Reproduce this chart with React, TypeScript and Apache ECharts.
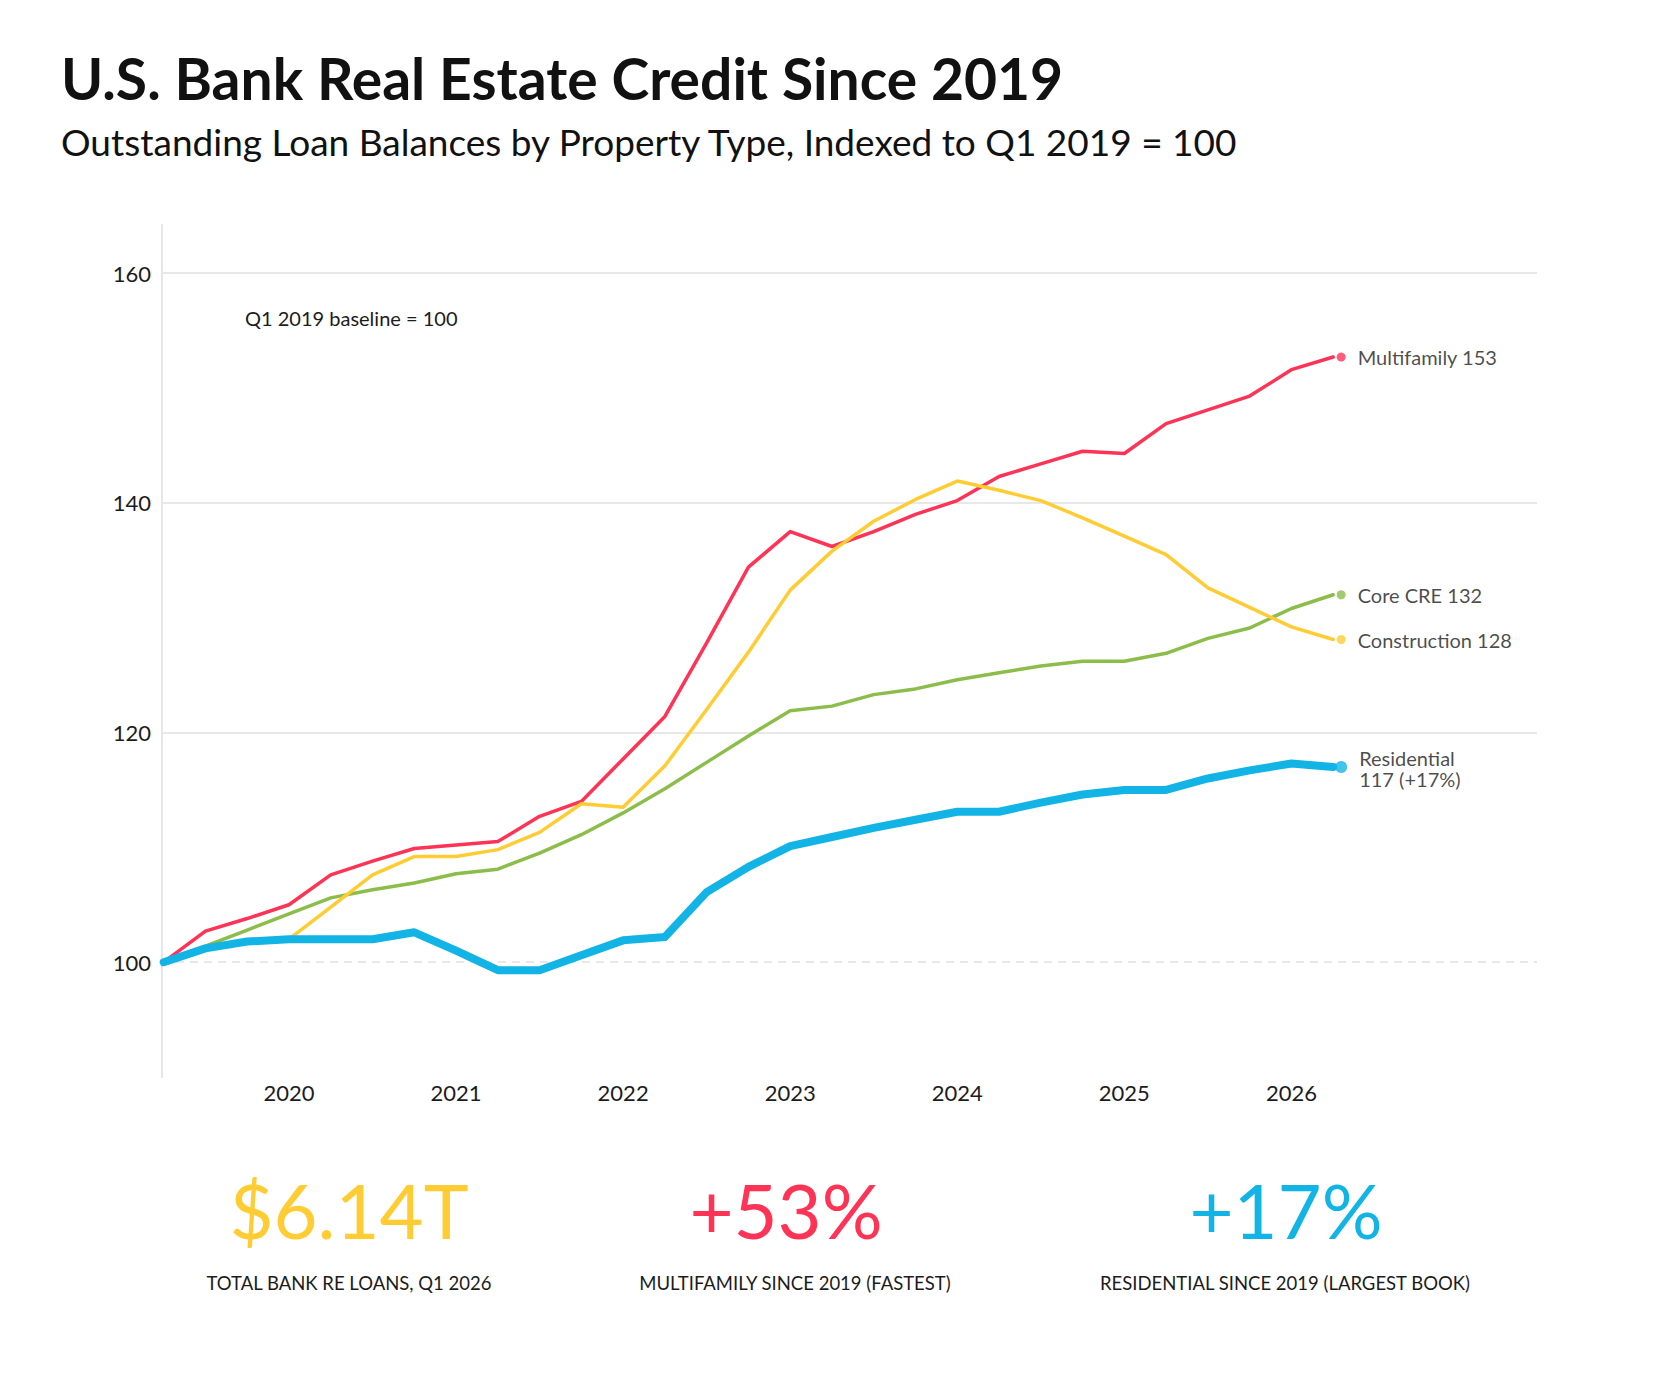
import { useEffect, useRef } from 'react'
import * as echarts from 'echarts'

const FONT = 'Lato, "Noto Sans", sans-serif'

// quarterly observations, Q1 2019 = 100
const quarters = [
  '2019 Q1', '2019 Q2', '2019 Q3', '2019 Q4',
  '2020 Q1', '2020 Q2', '2020 Q3', '2020 Q4',
  '2021 Q1', '2021 Q2', '2021 Q3', '2021 Q4',
  '2022 Q1', '2022 Q2', '2022 Q3', '2022 Q4',
  '2023 Q1', '2023 Q2', '2023 Q3', '2023 Q4',
  '2024 Q1', '2024 Q2', '2024 Q3', '2024 Q4',
  '2025 Q1', '2025 Q2', '2025 Q3', '2025 Q4',
  '2026 Q1'
]

const multifamily = [
  100, 102.7, 103.8, 105.0, 107.6, 108.8, 109.9, 110.2, 110.5, 112.7,
  114.0, 117.7, 121.4, 127.8, 134.4, 137.5, 136.2, 137.5, 139.0, 140.2,
  142.3, 143.4, 144.5, 144.3, 146.9, 148.1, 149.3, 151.6, 152.7
]
const coreCre = [
  100, 101.4, 102.8, 104.2, 105.6, 106.3, 106.9, 107.7, 108.1, 109.5,
  111.1, 113.0, 115.1, 117.4, 119.7, 121.9, 122.3, 123.3, 123.8, 124.6,
  125.2, 125.8, 126.2, 126.2, 126.9, 128.2, 129.1, 130.8, 132.0
]
const construction = [
  100, 101.2, 101.7, 102.0, 104.8, 107.6, 109.2, 109.2, 109.8, 111.3,
  113.8, 113.5, 117.1, 122.0, 127.0, 132.4, 135.8, 138.4, 140.3, 141.9,
  141.1, 140.2, 138.7, 137.1, 135.5, 132.6, 130.9, 129.2, 128.1
]
const residential = [
  100, 101.2, 101.8, 102.0, 102.0, 102.0, 102.6, 101.0, 99.3, 99.3,
  100.6, 101.9, 102.2, 106.1, 108.3, 110.1, 110.9, 111.7, 112.4, 113.1,
  113.1, 113.9, 114.6, 115.0, 115.0, 116.0, 116.7, 117.3, 117.0
]

const yearLabels = [2020, 2021, 2022, 2023, 2024, 2025, 2026]
const gridValues = [120, 140, 160]
const baselineValue = 100
const totalLoansT = 6.14

const RED = '#ff3355'
const YELLOW = '#ffcd33'
const GREEN = '#8cbd4b'
const BLUE = '#12b4e6'
const INK = '#1c1c1c'

// quarter-end position in fractional years
const qx = quarters.map((q) => {
  const [y, qq] = q.split(' Q')
  return Number(y) + Number(qq) * 0.25
})

const pairs = (vals: number[]) => vals.map((v, i) => [qx[i], v])
const last = (vals: number[]) => vals[vals.length - 1]

function lineSeries(name: string, vals: number[], color: string, width: number) {
  return {
    type: 'line',
    name,
    data: pairs(vals),
    showSymbol: false,
    symbol: 'none',
    silent: true,
    lineStyle: { color, width, cap: 'round', join: 'round' }
  }
}

function endDot(text: string, vals: number[], color: string, size: number, dy = 0) {
  return {
    type: 'scatter',
    data: [[qx[qx.length - 1], last(vals)]],
    symbolSize: size,
    symbolOffset: [8, 0],
    silent: true,
    z: 4,
    itemStyle: { color },
    label: {
      show: true,
      position: 'right',
      distance: 12,
      offset: [0, dy],
      formatter: text,
      color: INK,
      fontSize: 20,
      lineHeight: 21,
      fontFamily: FONT
    }
  }
}

export default function App() {
  const ref = useRef<HTMLDivElement>(null)

  useEffect(() => {
    if (!ref.current) return
    const chart = echarts.init(ref.current, null, { renderer: 'svg' })

    const mfGain = Math.round(last(multifamily) - 100)
    const resGain = Math.round(last(residential) - 100)

    const kpis = [
      { x: 341, vx: 341, value: `$${totalLoansT.toFixed(2)}T`, color: YELLOW, label: 'TOTAL BANK RE LOANS, Q1 2026' },
      { x: 787, vx: 778, value: `+${mfGain}%`, color: RED, label: 'MULTIFAMILY SINCE 2019 (FASTEST)' },
      { x: 1277, vx: 1278, value: `+${resGain}%`, color: BLUE, label: 'RESIDENTIAL SINCE 2019 (LARGEST BOOK)' }
    ]

    const option: echarts.EChartsOption = {
      animation: false,
      backgroundColor: '#ffffff',
      grid: { left: 154, right: 135, top: 217, bottom: 310 },
      xAxis: {
        type: 'value',
        min: 2019.24,
        max: 2027.47,
        interval: 0.01,
        axisLine: { show: false },
        axisTick: { show: false },
        splitLine: { show: false },
        axisLabel: {
          margin: 4,
          color: INK,
          fontSize: 22,
          fontFamily: FONT,
          formatter: (v: number) => {
            const yr = Math.round(v)
            return Math.abs(v - yr) < 1e-6 && yearLabels.includes(yr) ? String(yr) : ''
          }
        }
      },
      yAxis: {
        type: 'value',
        min: 90,
        max: 164.2,
        interval: 10,
        axisLine: { show: true, lineStyle: { color: '#e6e6e6', width: 2 } },
        axisTick: { show: false },
        splitLine: { show: false },
        axisLabel: {
          margin: 11,
          color: INK,
          fontSize: 22,
          fontFamily: FONT,
          formatter: (v: number) =>
            v === baselineValue || gridValues.includes(v) ? String(v) : ''
        }
      },
      series: [
        {
          ...lineSeries('Multifamily', multifamily, RED, 3.5),
          markLine: {
            silent: true,
            z: 1,
            symbol: ['none', 'none'],
            label: { show: false },
            lineStyle: { color: '#e8e8e8', width: 2, type: 'solid' },
            data: [
              { yAxis: baselineValue, lineStyle: { type: [8, 6], color: '#e8e8e8', width: 2 } },
              ...gridValues.map((v) => ({ yAxis: v }))
            ]
          }
        },
        lineSeries('Core CRE', coreCre, GREEN, 3.5),
        lineSeries('Construction', construction, YELLOW, 3.5),
        lineSeries('Residential', residential, BLUE, 8),
        endDot(`Multifamily ${Math.round(last(multifamily))}`, multifamily, RED, 9),
        endDot(`Core CRE ${Math.round(last(coreCre))}`, coreCre, GREEN, 9),
        endDot(`Construction ${Math.round(last(construction))}`, construction, YELLOW, 9),
        endDot(`Residential\n${Math.round(last(residential))} (+${resGain}%)`, residential, BLUE, 12, 2)
      ] as echarts.SeriesOption[],
      graphic: [
        {
          type: 'text',
          x: 53,
          y: 70,
          style: {
            text: 'U.S. Bank Real Estate Credit Since 2019',
            fontSize: 57,
            fontWeight: 'bold',
            fontFamily: FONT,
            fill: '#111111',
            verticalAlign: 'middle'
          }
        },
        {
          type: 'text',
          x: 53,
          y: 133,
          style: {
            text: 'Outstanding Loan Balances by Property Type, Indexed to Q1 2019 = 100',
            fontSize: 37,
            fontFamily: FONT,
            fill: '#111111',
            verticalAlign: 'middle'
          }
        },
        {
          type: 'text',
          x: 237,
          y: 310,
          style: {
            text: 'Q1 2019 baseline = 100',
            fontSize: 20,
            fontFamily: FONT,
            fill: INK,
            verticalAlign: 'middle'
          }
        },
        ...kpis.flatMap((k) => [
          {
            type: 'text',
            x: k.vx,
            y: 1201,
            style: {
              text: k.value,
              fontSize: 76,
              fontFamily: FONT,
              fill: k.color,
              align: 'center',
              verticalAlign: 'middle'
            }
          },
          {
            type: 'text',
            x: k.x,
            y: 1275,
            style: {
              text: k.label,
              fontSize: 18.5,
              fontFamily: FONT,
              fill: INK,
              align: 'center',
              verticalAlign: 'middle'
            }
          }
        ])
      ] as any
    }

    chart.setOption(option)
    return () => chart.dispose()
  }, [])

  return <div ref={ref} style={{ width: 1664, height: 1379 }} />
}
